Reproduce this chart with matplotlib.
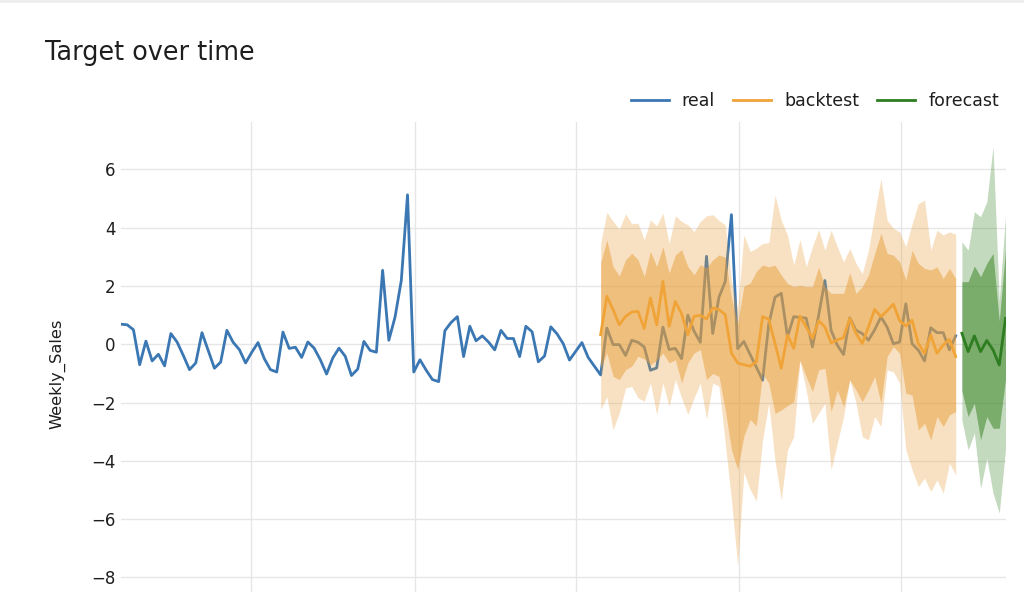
import numpy as np
import pandas as pd
import matplotlib
matplotlib.use('Agg')
import matplotlib.pyplot as plt
import matplotlib.dates as mdates
from matplotlib.patches import Rectangle

plt.rcParams['font.family'] = ['DejaVu Sans']
plt.rcParams['axes.unicode_minus'] = True

# weekly dates, 135 real weeks + 8 forecast weeks
dates = pd.date_range('2010-02-05', periods=143, freq='7D')

real = [0.69, 0.67, 0.50, -0.70, 0.11, -0.57, -0.34, -0.74, 0.37, 0.08,
        -0.38, -0.87, -0.64, 0.40, -0.21, -0.82, -0.61, 0.48, 0.07, -0.18,
        -0.64, -0.27, 0.06, -0.49, -0.87, -0.95, 0.42, -0.14, -0.10, -0.45,
        0.08, -0.13, -0.53, -1.02, -0.47, -0.13, -0.41, -1.07, -0.85, 0.10,
        -0.21, -0.27, 2.54, 0.14, 0.94, 2.19, 5.13, -0.95, -0.53, -0.89,
        -1.21, -1.28, 0.47, 0.75, 0.95, -0.42, 0.62, 0.12, 0.29, 0.08,
        -0.19, 0.48, 0.20, 0.20, -0.42, 0.62, 0.43, -0.60, -0.40, 0.60,
        0.36, 0.02, -0.54, -0.24, 0.06, -0.45, -0.75, -1.05, 0.56, -0.01,
        -0.01, -0.38, 0.14, 0.07, -0.09, -0.89, -0.81, 0.59, -0.18, -0.14,
        -0.49, 1.00, 0.45, 0.07, 3.02, 0.37, 1.62, 2.15, 4.45, -0.15,
        0.10, -0.35, -0.78, -1.23, 0.70, 1.62, 1.75, 0.26, 0.95, 0.92,
        0.90, -0.09, 0.99, 2.19, 0.48, -0.03, -0.35, 0.91, 0.48, 0.37,
        0.14, 0.50, 0.94, 0.59, 0.02, 0.08, 1.39, 0.02, -0.20, -0.57,
        0.57, 0.40, 0.40, -0.19, 0.29]

# backtest starts at week 77 and runs to the last real week
backtest = [0.33, 1.65, 1.19, 0.67, 0.96, 1.11, 1.13, 0.54, 1.59, 0.67,
            2.16, 0.62, 1.47, 1.05, 0.33, 0.96, 1.00, 0.87, 1.25, 1.19,
            1.02, -0.30, -0.64, -0.70, -0.75, -0.60, 0.95, 0.86, 0.03, -0.82,
            0.32, -0.14, 0.97, 0.60, 0.20, 0.81, 0.60, 0.05, 0.15, 0.23,
            0.89, 0.38, 0.03, 0.60, 1.20, 0.95, 1.15, 1.38, 0.81, 0.63,
            0.83, 0.03, -0.31, 0.32, -0.31, -0.02, 0.17, -0.42]
bt_outer_hi = [3.47, 4.53, 4.22, 3.95, 4.48, 4.14, 4.16, 3.59, 4.27, 4.07,
               4.50, 3.47, 4.41, 4.22, 4.10, 3.87, 4.22, 4.41, 4.45, 4.25,
               4.10, 2.20, 1.20, 3.76, 3.19, 3.30, 3.46, 3.49, 5.12, 4.26,
               3.75, 2.72, 3.60, 2.66, 3.35, 3.94, 3.23, 3.92, 3.35, 2.83,
               3.29, 2.78, 2.43, 3.23, 4.49, 5.69, 4.26, 3.98, 3.86, 3.35,
               4.13, 4.83, 4.95, 3.23, 3.92, 3.75, 3.86, 3.78]
bt_inner_hi = [2.79, 3.59, 2.67, 2.35, 2.90, 3.13, 2.90, 2.33, 3.19, 2.67,
               3.36, 2.45, 3.07, 3.25, 2.67, 2.39, 2.73, 2.62, 2.90, 3.07,
               2.99, 1.60, 0.70, 2.00, 2.10, 2.50, 2.72, 2.66, 2.72, 2.38,
               2.09, 1.98, 2.03, 1.98, 1.98, 2.66, 1.98, 1.75, 1.75, 1.75,
               2.46, 1.75, 1.98, 2.38, 3.12, 3.81, 3.12, 3.06, 2.83, 2.21,
               3.23, 2.78, 2.61, 2.55, 2.66, 2.26, 2.61, 2.26]
bt_inner_lo = [-0.80, -0.30, -1.10, -1.21, -0.87, -0.75, -0.41, -0.50, -0.70, -0.55,
               -0.30, -0.64, -0.53, -1.33, -0.64, -0.30, -0.18, -1.21, -1.00, -1.10,
               -2.24, -3.61, -4.30, -3.15, -2.58, -2.80, -1.00, -1.34, -2.37, -2.25,
               -2.10, -1.97, -0.54, -1.11, -1.62, -0.88, -0.82, -2.31, -1.57, -2.14,
               -1.22, -1.57, -1.97, -1.57, -1.11, -2.02, -0.42, -0.08, -0.31, -1.68,
               -1.74, -2.94, -2.71, -3.28, -2.48, -2.82, -2.42, -2.31]
bt_outer_lo = [-2.24, -1.80, -2.93, -2.35, -1.50, -1.44, -1.84, -1.95, -1.33, -2.41,
               -1.33, -2.13, -1.21, -1.84, -2.41, -1.84, -1.33, -2.58, -1.33, -1.44,
               -3.38, -5.33, -7.60, -4.40, -4.98, -5.38, -3.28, -2.02, -4.00, -5.34,
               -3.62, -3.17, -0.59, -1.57, -2.71, -2.37, -2.02, -4.31, -3.39, -2.48,
               -1.22, -2.02, -3.17, -3.28, -2.48, -2.82, -0.88, -0.94, -1.34, -3.62,
               -4.31, -4.88, -4.59, -5.05, -4.65, -5.11, -4.08, -4.48]

forecast = [0.38, -0.25, 0.29, -0.25, 0.13, -0.19, -0.71, 0.89]
fc_outer_hi = [3.52, 3.23, 4.55, 4.38, 4.89, 6.80, 1.50, 4.40]
fc_inner_hi = [2.15, 2.15, 2.69, 2.32, 2.78, 3.12, 0.80, 3.23]
fc_inner_lo = [-1.60, -2.48, -2.02, -3.28, -2.48, -2.88, -2.88, -1.20]
fc_outer_lo = [-2.60, -3.62, -3.05, -4.94, -3.91, -5.11, -5.79, -3.62]

bt_start = 77
real_dates = dates[:len(real)]
bt_dates = dates[bt_start:bt_start + len(backtest)]
fc_dates = dates[len(real):]

c_real = '#3a77b3'
c_bt = '#f0a438'
c_bt_band = '#e89e3a'
c_fc = '#2e7d20'
c_fc_band = '#3e872a'
txt = '#1e1e1e'

fig = plt.figure(figsize=(10.24, 5.92), dpi=100)
ax = fig.add_axes([121 / 1024, 0, (1005.5 - 121) / 1024, 1 - 122 / 592])

ax.plot(real_dates, real, color=c_real, lw=2, label='real', zorder=2)
ax.fill_between(bt_dates, bt_outer_lo, bt_outer_hi, color=c_bt_band, alpha=0.3, lw=0, zorder=3)
ax.fill_between(bt_dates, bt_inner_lo, bt_inner_hi, color=c_bt_band, alpha=0.5, lw=0, zorder=3)
ax.plot(bt_dates, backtest, color=c_bt, lw=2, label='backtest', zorder=4)
ax.fill_between(fc_dates, fc_outer_lo, fc_outer_hi, color=c_fc_band, alpha=0.3, lw=0, zorder=3)
ax.fill_between(fc_dates, fc_inner_lo, fc_inner_hi, color=c_fc_band, alpha=0.55, lw=0, zorder=3)
ax.plot(fc_dates, forecast, color=c_fc, lw=2, label='forecast', zorder=4)

ax.set_xlim(dates[0], dates[-1])
ax.set_ylim(-8.5, 7.63)
ax.set_yticks(np.arange(-8, 7, 2))
ax.xaxis.set_major_locator(mdates.MonthLocator(bymonth=(1, 7)))
ax.tick_params(axis='x', length=0, labelbottom=False)
ax.tick_params(axis='y', length=0, pad=4, labelsize=12, labelcolor=txt)
ax.grid(True, color='#e6e6e6', lw=1)
ax.set_axisbelow(True)
for s in ax.spines.values():
    s.set_visible(False)

fig.text(45 / 1024, 1 - 53 / 592, 'Target over time', fontsize=18.4, color=txt,
         ha='left', va='center')
fig.text(57 / 1024, 1 - 374 / 592, 'Weekly_Sales', fontsize=11.7, color=txt,
         rotation=90, ha='center', va='center')

fig.legend(loc='center right', bbox_to_anchor=(999 / 1024, 1 - 101 / 592), ncol=3,
           frameon=False, fontsize=12.5, handlelength=2.2, handletextpad=0.75,
           columnspacing=1.03, borderaxespad=0, borderpad=0, labelcolor=txt)

fig.patches.append(Rectangle((0, 1 - 3 / 592), 1, 3 / 592, transform=fig.transFigure,
                             color='#eeeeee', lw=0))

fig.savefig('out.png', dpi=100)
